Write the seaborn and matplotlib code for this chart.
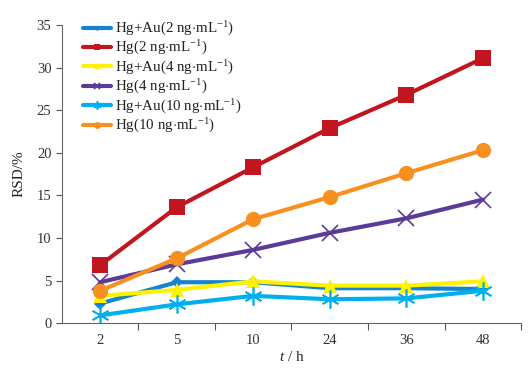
import matplotlib
matplotlib.use("Agg")
import matplotlib.pyplot as plt
import seaborn as sns
import pandas as pd
import numpy as np

sns.set_theme(style="white")
plt.rcParams['font.family'] = ['Liberation Serif', 'DejaVu Serif']
plt.rcParams['mathtext.fontset'] = 'custom'
plt.rcParams['mathtext.rm'] = 'Liberation Serif'
plt.rcParams['mathtext.it'] = 'Liberation Serif:italic'

times = ["2", "5", "10", "24", "36", "48"]
labels = [r"Hg+Au(2 ng$\cdot$mL$^{-1}$)", r"Hg(2 ng$\cdot$mL$^{-1}$)",
          r"Hg+Au(4 ng$\cdot$mL$^{-1}$)", r"Hg(4 ng$\cdot$mL$^{-1}$)",
          r"Hg+Au(10 ng$\cdot$mL$^{-1}$)", r"Hg(10 ng$\cdot$mL$^{-1}$)"]
hgau2 = [2.3, 4.8, 4.8, 4.1, 4.1, 4.0]
hg2 = [6.8, 13.6, 18.3, 22.9, 26.8, 31.1]
hgau4 = [3.2, 3.9, 4.9, 4.4, 4.4, 4.9]
hg4 = [4.8, 6.9, 8.6, 10.6, 12.3, 14.5]
hgau10 = [0.9, 2.2, 3.2, 2.8, 2.9, 3.8]
hg10 = [3.8, 7.6, 12.2, 14.8, 17.6, 20.3]
series = [hgau2, hg2, hgau4, hg4, hgau10, hg10]

colors = ["#1584D0", "#C1161F", "#FFF200", "#5C3A98", "#00B0EE", "#F7901E"]
markers = ["D", "s", "^", "x", (6, 2, 0), "o"]
msizes = [6, 11, 10, 11, 13, 11]

fig = plt.figure(figsize=(5.29, 3.68), dpi=100)
ax = fig.add_axes([0.117, 0.122, 0.868, 0.81])

for lab, vals, c, m, ms in zip(labels, series, colors, markers, msizes):
    df = pd.DataFrame({"t": times, "RSD": vals})
    sns.lineplot(data=df, x="t", y="RSD", ax=ax, color=c, marker=m,
                 markersize=ms, linewidth=3.0, label=lab, sort=False,
                 markeredgecolor=c, markeredgewidth=1.2 if m in ("x", (6, 2, 0)) else 0)

ax.set_xlim(-0.5, 5.5)
ax.set_ylim(0, 35)
ax.set_yticks(np.arange(0, 36, 5))
ax.set_xticks(range(len(times)))
ax.set_xticklabels(times)
ax.set_xticks(np.arange(0.5, 6, 1), minor=True)
ax.tick_params(axis='x', which='major', length=0, labelsize=10.5, pad=8, colors='#333333')
ax.tick_params(axis='x', which='minor', length=5, width=0.8, direction='out', color='#555555', bottom=True)
ax.tick_params(axis='y', length=4, width=0.8, direction='out', left=True, labelsize=10.5, colors='#333333', color='#555555')
for s in ['top', 'right']:
    ax.spines[s].set_visible(False)
for s in ['left', 'bottom']:
    ax.spines[s].set_color('#666666')
    ax.spines[s].set_linewidth(0.8)

ax.set_ylabel("RSD/%", fontsize=11, color='#222222', labelpad=8)
ax.set_xlabel(r"$\it{t}$ / h", fontsize=11, color='#222222', labelpad=2)

leg = ax.legend(loc='upper left', bbox_to_anchor=(0.137, 0.975), bbox_transform=fig.transFigure,
                frameon=False, fontsize=10.8, handlelength=1.9, handletextpad=0.25,
                labelspacing=0.08, markerscale=0.45, borderaxespad=0.3)
for t in leg.get_texts():
    t.set_color('#222222')

fig.savefig("out.png", dpi=100, facecolor='white')
